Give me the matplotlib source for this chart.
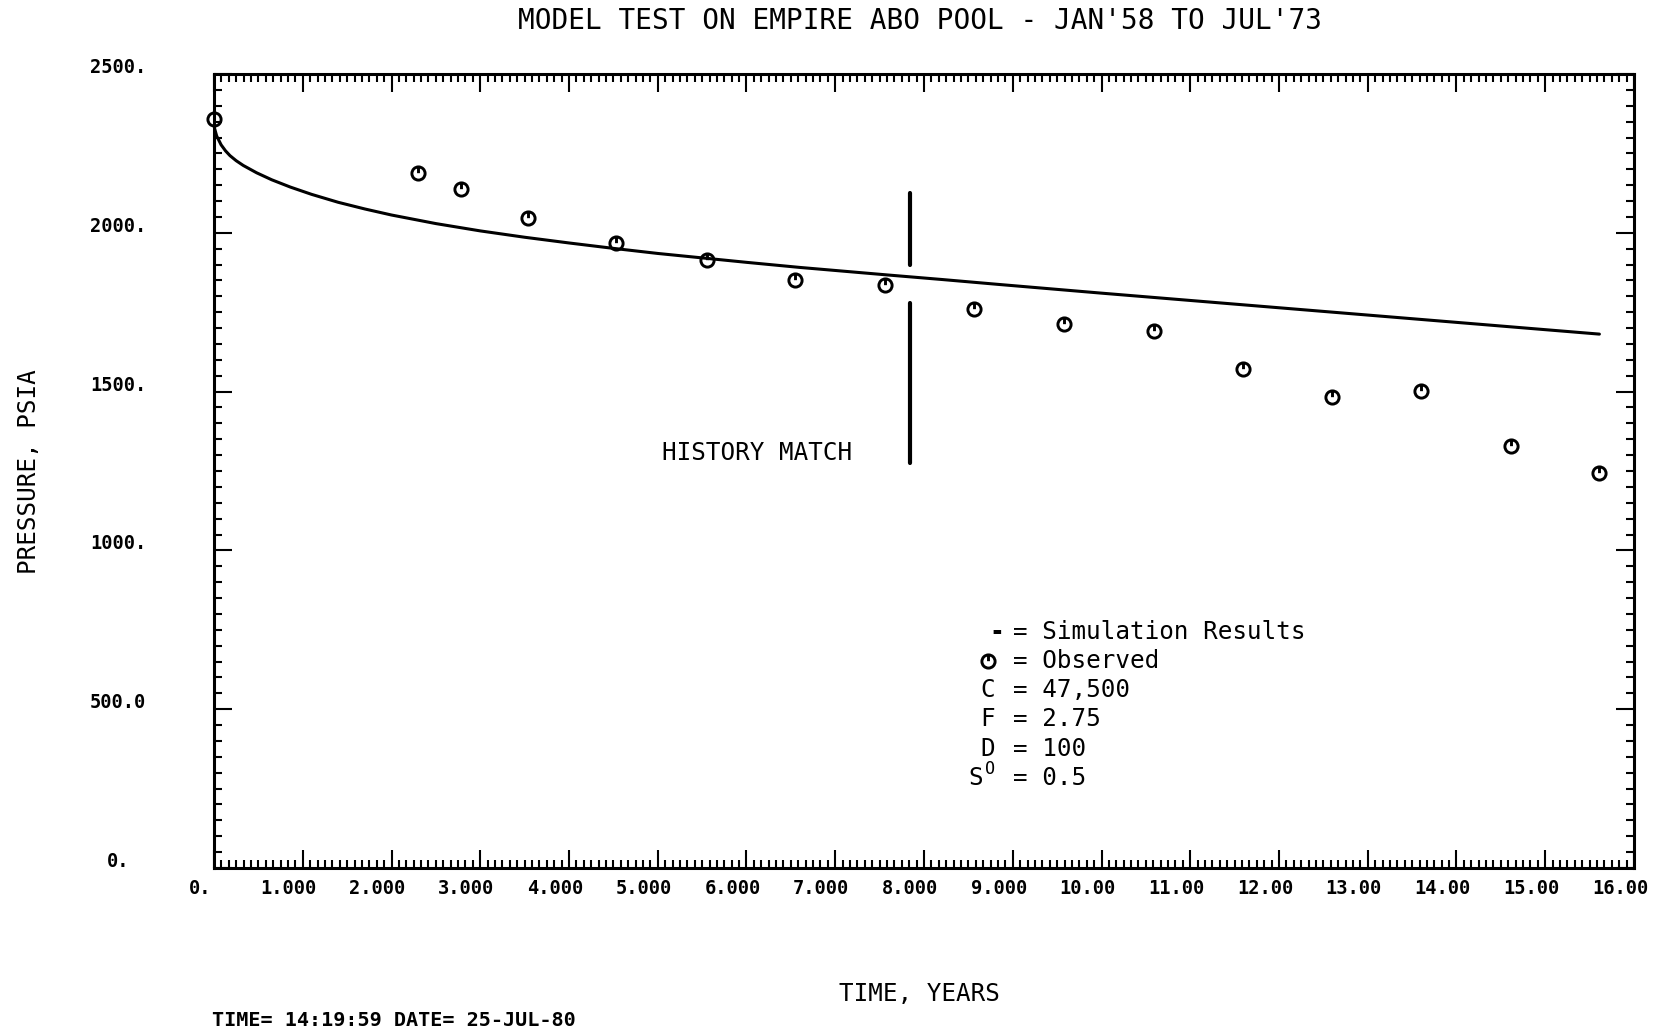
import matplotlib
matplotlib.use("Agg")
import matplotlib.pyplot as plt
import matplotlib.transforms as mtransforms
from matplotlib.path import Path
from matplotlib.ticker import MultipleLocator, FixedLocator

# observed reservoir pressure
obs_years = [0.0, 2.30, 2.78, 3.54, 4.53, 5.55, 6.55, 7.56, 8.56, 9.58,
             10.59, 11.59, 12.60, 13.60, 14.61, 15.61]
obs_psia = [2358, 2189, 2139, 2048, 1968, 1914, 1851, 1837, 1760, 1714,
            1690, 1570, 1483, 1502, 1330, 1243]

# simulator output
sim_years = [0.0, 0.03, 0.08, 0.13, 0.18, 0.25, 0.33, 0.48, 0.65, 0.86, 1.1,
             1.4, 1.7, 2.0, 2.5, 3.0, 3.5, 4.0, 4.5, 5.0, 5.5, 6.0,
             6.6, 7.1, 7.6, 8.2, 8.86, 10.0, 11.0, 12.0, 13.0, 14.0, 15.0, 15.61]
sim_psia = [2335, 2305, 2277, 2258, 2243, 2227, 2212, 2189, 2167, 2144, 2121,
            2096, 2075, 2056, 2029, 2006, 1986, 1968, 1951, 1935, 1921, 1907,
            1891, 1879, 1867, 1853, 1837, 1810, 1787, 1764, 1741, 1718, 1695, 1681]

# end of history match period
match_year = 7.84
match_upper = [2126, 1899]
match_lower = [1778, 1274]

x_ticks = list(range(17))
x_labels = ["0."] + ["%d.000" % i for i in range(1, 10)] + ["%d.00" % i for i in range(10, 17)]
y_ticks = [0, 500, 1000, 1500, 2000, 2500]
y_labels = ["0.", "500.0", "1000.", "1500.", "2000.", "2500."]

params = [("C", "47,500"), ("F", "2.75"), ("D", "100")]

W, H = 1663, 1034
MONO = "DejaVu Sans Mono"

fig = plt.figure(figsize=(W / 100, H / 100), dpi=100)
ax = fig.add_axes([214 / W, 1 - 868 / H, (1634 - 214) / W, (868 - 74) / H])

# circle with a short stick from the top, like the plotter symbol
obs_marker = Path.make_compound_path(Path.unit_circle(), Path([[0, 1], [0, 0.05]]))

ax.plot(sim_years, sim_psia, color="black", lw=2.2, solid_capstyle="round",
        solid_joinstyle="round")
ax.plot(obs_years, obs_psia, ls="none", marker=obs_marker, ms=9.5, mew=2.1,
        mfc="none", mec="black", clip_on=False)

ax.plot([match_year, match_year], match_upper, color="black", lw=3, solid_capstyle="round")
ax.plot([match_year, match_year], match_lower, color="black", lw=3, solid_capstyle="round")
ax.text(6.12, 1307, "HISTORY MATCH", family=MONO, fontsize=17.5,
        ha="center", va="center")

ax.set_xlim(0, 16)
ax.set_ylim(0, 2500)
for s in ax.spines.values():
    s.set_linewidth(2.2)

ax.xaxis.set_major_locator(FixedLocator(x_ticks))
ax.xaxis.set_minor_locator(MultipleLocator(1 / 12))
ax.yaxis.set_major_locator(FixedLocator(y_ticks))
ax.yaxis.set_minor_locator(MultipleLocator(50))
ax.set_xticklabels(x_labels)
ax.set_yticklabels(y_labels)

ax.tick_params(which="both", direction="in", top=True, right=True, width=1.5)
ax.tick_params(which="major", length=13)
ax.tick_params(which="minor", length=5.5)
ax.tick_params(axis="x", pad=8)
ax.tick_params(axis="y", pad=69)

dx = mtransforms.ScaledTranslation(-0.14, 0, fig.dpi_scale_trans)
for lab in ax.get_xticklabels():
    lab.set_family(MONO)
    lab.set_fontweight("bold")
    lab.set_fontsize(13.5)
    lab.set_transform(lab.get_transform() + dx)

dy = mtransforms.ScaledTranslation(0, 0.085, fig.dpi_scale_trans)
for lab in ax.get_yticklabels():
    lab.set_family(MONO)
    lab.set_fontweight("bold")
    lab.set_fontsize(13.5)
    lab.set_horizontalalignment("center")
    lab.set_transform(lab.get_transform() + dy)

fig.text(920 / W, 1 - 21 / H, "MODEL TEST ON EMPIRE ABO POOL - JAN'58 TO JUL'73",
         family=MONO, fontsize=20, ha="center", va="center")
fig.text(28.6 / W, 1 - 472 / H, "PRESSURE, PSIA", family=MONO, fontsize=17.5,
         rotation=90, ha="center", va="center")
fig.text(919.5 / W, 1 - 994 / H, "TIME, YEARS", family=MONO, fontsize=17.5,
         ha="center", va="center")
fig.text(212 / W, 1 - 1020 / H, "TIME= 14:19:59 DATE= 25-JUL-80", family=MONO,
         fontweight="bold", fontsize=14.5, ha="left", va="center")

# key block
row_y = [632, 661, 690, 719, 749, 778]
eq_x = 1013
sym_x = 988
fs = 17.5
fig.text(997 / W, 1 - row_y[0] / H, "-", family=MONO, fontsize=fs, fontweight="bold",
         ha="center", va="center")
fig.text(eq_x / W, 1 - row_y[0] / H, "= Simulation Results", family=MONO, fontsize=fs,
         ha="left", va="center")
ax.plot([sym_x / W], [1 - row_y[1] / H], transform=fig.transFigure, ls="none",
        marker=obs_marker, ms=9.5, mew=2.1, mfc="none", mec="black", clip_on=False)
fig.text(eq_x / W, 1 - row_y[1] / H, "= Observed", family=MONO, fontsize=fs,
         ha="left", va="center")
for (sym, val), yy in zip(params, row_y[2:5]):
    fig.text(sym_x / W, 1 - yy / H, sym, family=MONO, fontsize=fs, ha="center", va="center")
    fig.text(eq_x / W, 1 - yy / H, "= " + val, family=MONO, fontsize=fs,
             ha="left", va="center")
fig.text(983 / W, 1 - row_y[5] / H, "S", family=MONO, fontsize=fs, ha="right", va="center")
fig.text(985 / W, 1 - (row_y[5] - 9) / H, "O", family=MONO, fontsize=12, ha="left", va="center")
fig.text(eq_x / W, 1 - row_y[5] / H, "= 0.5", family=MONO, fontsize=fs, ha="left", va="center")

fig.savefig("out.png", dpi=100, facecolor="white")
